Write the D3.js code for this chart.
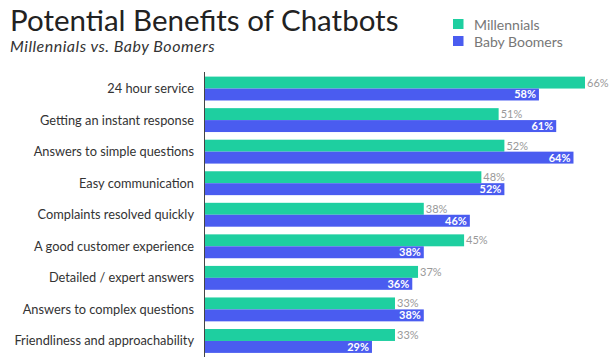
<!DOCTYPE html>
<html><head><meta charset="utf-8">
<script src="https://cdn.jsdelivr.net/npm/d3@7"></script>
<style>
body{margin:0;background:#fff;}
text{font-family:Lato, "Open Sans", sans-serif;}
</style></head>
<body><svg id="c" width="613" height="357"></svg>
<script>
const categories = ["24 hour service","Getting an instant response","Answers to simple questions","Easy communication","Complaints resolved quickly","A good customer experience","Detailed / expert answers","Answers to complex questions","Friendliness and approachability"];
const millennials = [66,51,52,48,38,45,37,33,33];
const boomers = [58,61,64,52,46,38,36,38,29];
const seriesNames = ["Millennials","Baby Boomers"];
const colors = ["#1ecfa0","#4a5cf0"];

const svg = d3.select("#c");
const x = d3.scaleLinear().domain([0,66]).range([205,585]);
const y = d3.scaleBand().domain(categories).range([72.5,357]).paddingInner(0.243).paddingOuter(0.13);
const sub = d3.scaleBand().domain(seriesNames).range([0,y.bandwidth()]);

svg.append("text").attr("x",10).attr("y",31).attr("font-size",29.5).attr("fill","#222").text("Potential Benefits of Chatbots");
svg.append("text").attr("x",10).attr("y",52).attr("font-size",16).attr("font-style","italic").attr("letter-spacing",0.5).attr("fill","#333").text("Millennials vs. Baby Boomers");

const lg = svg.append("g");
seriesNames.forEach((s,i)=>{
  lg.append("rect").attr("x",453).attr("y",19+i*17).attr("width",10.5).attr("height",10).attr("fill",colors[i]);
  lg.append("text").attr("x",474).attr("y",30+i*17).attr("font-size",14).attr("fill","#777").text(s);
});

const data = categories.map((c,i)=>({c, vals:[millennials[i], boomers[i]]}));
const g = svg.append("g");
data.forEach(d=>{
  d.vals.forEach((v,i)=>{
    const yy = y(d.c)+sub(seriesNames[i]);
    g.append("rect").attr("x",x(0)).attr("y",yy).attr("width",x(v)-x(0)).attr("height",sub.bandwidth()).attr("fill",colors[i]);
    if(i===0){
      g.append("text").attr("x",x(v)+2).attr("y",yy+sub.bandwidth()/2).attr("dy","0.36em").attr("font-size",11).attr("fill","#999").text(v+"%");
    } else {
      g.append("text").attr("x",x(v)-3).attr("y",yy+sub.bandwidth()/2).attr("dy","0.36em").attr("text-anchor","end").attr("font-size",11).attr("font-weight","bold").attr("fill","#fff").text(v+"%");
    }
  });
  g.append("text").attr("x",194).attr("y",y(d.c)+y.bandwidth()/2).attr("dy","0.35em").attr("text-anchor","end").attr("font-size",12.8).attr("fill","#333").text(d.c);
});
svg.append("line").attr("x1",204.5).attr("x2",204.5).attr("y1",72).attr("y2",357).attr("stroke","#444").attr("stroke-width",1);
</script></body></html>
